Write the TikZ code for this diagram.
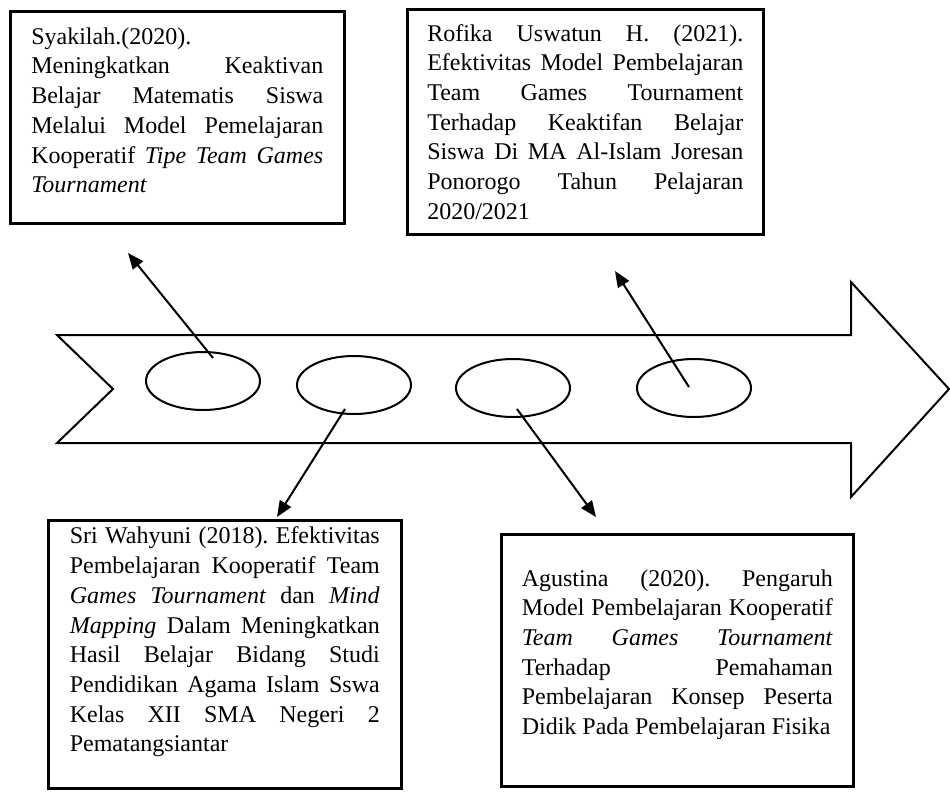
\documentclass[tikz,border=0pt]{standalone}
\usepackage{fontspec}
\setmainfont{Liberation Serif}
\usetikzlibrary{arrows.meta, positioning, shapes.geometric}
\tolerance=10000
\hyphenpenalty=10000
\frenchspacing

\tikzset{
  refbox/.style={draw, rectangle, line width=1.3pt, fill=white, anchor=north west,
    align=justify, font=\fontsize{12}{14.85}\selectfont},
  stop/.style={draw, ellipse, line width=1pt, minimum width=57pt, minimum height=29pt, inner sep=0pt},
  link/.style={-{Triangle[length=8pt,width=6.5pt]}, line width=1pt},
}

\begin{document}
\begin{tikzpicture}[x=0.5pt, y=-0.5pt]
  \useasboundingbox (0,0) rectangle (950,794);
  % the time line
  \draw[line width=1pt, fill=white] (57,335) -- (851,335) -- (851,282) -- (949,389)
    -- (851,497) -- (851,443) -- (57,443) -- (113,389) -- cycle;

  \node[stop] (e1) at (203,381) {};
  \node[stop, right=17.5pt of e1, yshift=-2pt] (e2) {};
  \node[stop, right=21.5pt of e2, yshift=-1.5pt] (e3) {};
  \node[stop, right=32.5pt of e3] (e4) {};

  % studies
  \node[refbox, text width=146pt, inner xsep=10.5pt, minimum height=106pt] (syakilah) at (9,10)
    {Syakilah.(2020).\\
     Meningkatkan Keaktivan\linebreak
     Belajar Matematis Siswa\linebreak
     Melalui Model Pemelajaran\linebreak
     Kooperatif \textit{Tipe Team Games}\linebreak
     \textit{Tournament}\par\kern7pt};
  \node[refbox, text width=158pt, inner xsep=10pt, minimum height=112.5pt] (rofika) at (406,8)
    {Rofika Uswatun H. (2021).\linebreak
     Efektivitas Model Pembelajaran\linebreak
     Team Games Tournament\linebreak
     Terhadap Keaktifan Belajar\linebreak
     Siswa Di MA Al-Islam Joresan\linebreak
     Ponorogo Tahun Pelajaran\linebreak
     2020/2021};
  \node[refbox, text width=155pt, inner xsep=10.75pt, minimum height=134pt] (wahyuni) at (47,519)
    {Sri Wahyuni (2018). Efektivitas\linebreak
     Pembelajaran Kooperatif Team\linebreak
     \textit{Games Tournament} dan \textit{Mind}\linebreak
     \textit{Mapping} Dalam Meningkatkan\linebreak
     Hasil Belajar Bidang Studi\linebreak
     Pendidikan Agama Islam Sswa\linebreak
     Kelas XII SMA Negeri 2\linebreak
     Pematangsiantar\\ \mbox{}};
  \node[refbox, text width=155.5pt, inner xsep=10.25pt, minimum height=126pt] (agustina) at (500,533)
    {\mbox{}\\
     Agustina (2020). Pengaruh\linebreak
     Model Pembelajaran Kooperatif\linebreak
     \textit{Team Games Tournament}\linebreak
     Terhadap Pemahaman\linebreak
     Pembelajaran Konsep Peserta\linebreak
     Didik Pada Pembelajaran Fisika\\ \mbox{}};

  % arrows from the stops
  \coordinate (s1) at ([shift={(10,-23)}]e1.center);
  \coordinate (t1) at (128,253);
  \coordinate (s2) at ([shift={(-9,24)}]e2.center);
  \coordinate (t2) at (277,517);
  \coordinate (s3) at ([shift={(4,21)}]e3.center);
  \coordinate (t3) at (596,517);
  \coordinate (s4) at ([shift={(-5,-1)}]e4.center);
  \coordinate (t4) at (615,271);
  \draw[link] (s1) -- (t1);
  \draw[link] (s2) -- (t2);
  \draw[link] (s3) -- (t3);
  \draw[link] (s4) -- (t4);
\end{tikzpicture}
\end{document}
